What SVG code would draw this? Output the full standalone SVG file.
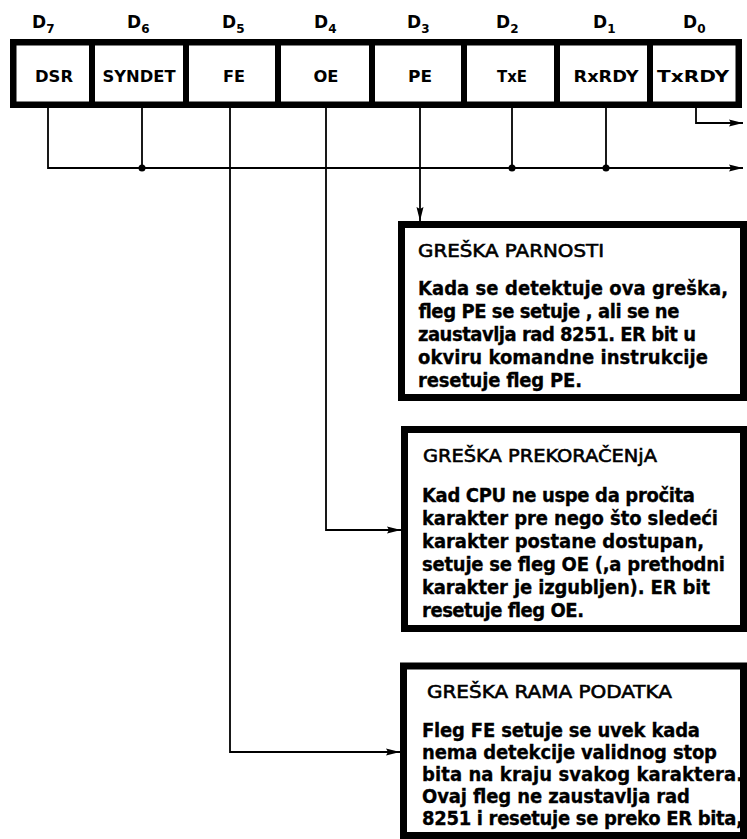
<svg xmlns="http://www.w3.org/2000/svg" width="747" height="839" viewBox="0 0 747 839">
  <style>
    .bg { fill: #ffffff; }
    .frame { fill: #ffffff; stroke: #000; stroke-width: 6.5; }
    .box { fill: #ffffff; stroke: #000; stroke-width: 7; }
    .div { stroke: #000; stroke-width: 6; }
    .wire { fill: none; stroke: #000; stroke-width: 1.8; }
    .dot { fill: #000; }
    .bit { font-family: "DejaVu Sans", "Liberation Sans", sans-serif; font-weight: bold; font-size: 17px; fill: #000; }
    .sub { font-size: 12px; }
    .cell { font-family: "DejaVu Sans", "Liberation Sans", sans-serif; font-weight: bold; font-size: 16px; fill: #000; text-anchor: middle; }
    .head { font-family: "DejaVu Sans", "Liberation Sans", sans-serif; font-size: 18px; fill: #000; stroke: #000; stroke-width: 0.6; }
    .body { font-family: "DejaVu Sans Condensed", "DejaVu Sans", sans-serif; font-stretch: condensed; font-weight: bold; font-size: 20px; fill: #000; stroke: #000; stroke-width: 0.3; }
  </style>
  <defs>
    <marker id="arrow" viewBox="0 0 14 8" refX="14" refY="4" markerWidth="14" markerHeight="8" markerUnits="userSpaceOnUse" orient="auto">
      <path d="M0,0.5 L14,4 L0,7.5 L2,4 Z" fill="#000"/>
    </marker>
  </defs>

  <rect class="bg" x="0" y="0" width="747" height="839"/>

  <!-- bit numbers above the status register -->
  <g id="bit-labels">
    <text class="bit" x="32" y="28">D<tspan class="sub" dy="5">7</tspan></text>
    <text class="bit" x="127" y="28">D<tspan class="sub" dy="5">6</tspan></text>
    <text class="bit" x="222" y="28">D<tspan class="sub" dy="5">5</tspan></text>
    <text class="bit" x="314" y="28">D<tspan class="sub" dy="5">4</tspan></text>
    <text class="bit" x="407" y="28">D<tspan class="sub" dy="5">3</tspan></text>
    <text class="bit" x="496" y="28">D<tspan class="sub" dy="5">2</tspan></text>
    <text class="bit" x="593" y="28">D<tspan class="sub" dy="5">1</tspan></text>
    <text class="bit" x="683" y="28">D<tspan class="sub" dy="5">0</tspan></text>
  </g>

  <!-- 8251 status register -->
  <g id="register">
    <rect class="frame" x="13.25" y="42.25" width="725.5" height="62.5"/>
    <line class="div" x1="92" y1="42" x2="92" y2="105"/>
    <line class="div" x1="186" y1="42" x2="186" y2="105"/>
    <line class="div" x1="278" y1="42" x2="278" y2="105"/>
    <line class="div" x1="372" y1="42" x2="372" y2="105"/>
    <line class="div" x1="464" y1="42" x2="464" y2="105"/>
    <line class="div" x1="557" y1="42" x2="557" y2="105"/>
    <line class="div" x1="650" y1="42" x2="650" y2="105"/>
    <text class="cell" x="54" y="82" textLength="38" lengthAdjust="spacingAndGlyphs">DSR</text>
    <text class="cell" x="139" y="82" textLength="73" lengthAdjust="spacingAndGlyphs">SYNDET</text>
    <text class="cell" x="234" y="82" textLength="22" lengthAdjust="spacingAndGlyphs">FE</text>
    <text class="cell" x="326" y="82" textLength="25" lengthAdjust="spacingAndGlyphs">OE</text>
    <text class="cell" x="420" y="82" textLength="24" lengthAdjust="spacingAndGlyphs">PE</text>
    <text class="cell" x="512" y="82" textLength="30" lengthAdjust="spacingAndGlyphs">TxE</text>
    <text class="cell" x="606" y="82" textLength="65" lengthAdjust="spacingAndGlyphs">RxRDY</text>
    <text class="cell" x="693" y="82" textLength="72" lengthAdjust="spacingAndGlyphs">TxRDY</text>
  </g>

  <!-- signal lines -->
  <g id="connectors">
    <path class="wire" d="M48,108 V168 H743" marker-end="url(#arrow)"/>
    <path class="wire" d="M142,108 V168"/>
    <path class="wire" d="M512,108 V168"/>
    <path class="wire" d="M606,108 V168"/>
    <path class="wire" d="M696,108 V123 H743" marker-end="url(#arrow)"/>
    <path class="wire" d="M420,108 V221" marker-end="url(#arrow)"/>
    <path class="wire" d="M326,108 V530 H401" marker-end="url(#arrow)"/>
    <path class="wire" d="M230,108 V752 H400" marker-end="url(#arrow)"/>
    <circle class="dot" cx="142" cy="168" r="3.5"/>
    <circle class="dot" cx="512" cy="168" r="3.5"/>
    <circle class="dot" cx="606" cy="168" r="3.5"/>
  </g>

  <!-- parity error -->
  <g id="parity-error">
    <rect class="box" x="401.5" y="224.5" width="342" height="173"/>
    <text class="head" x="418" y="257" textLength="186" lengthAdjust="spacingAndGlyphs">GREŠKA PARNOSTI</text>
    <text class="body" x="418" y="295" textLength="310" lengthAdjust="spacing">Kada se detektuje ova greška,</text>
    <text class="body" x="418" y="318" textLength="261" lengthAdjust="spacing">fleg PE se setuje , ali se ne</text>
    <text class="body" x="418" y="341" textLength="278" lengthAdjust="spacing">zaustavlja rad 8251. ER bit u</text>
    <text class="body" x="418" y="364" textLength="290" lengthAdjust="spacing">okviru komandne instrukcije</text>
    <text class="body" x="418" y="387" textLength="164" lengthAdjust="spacing">resetuje fleg PE.</text>
  </g>

  <!-- overrun error -->
  <g id="overrun-error">
    <rect class="box" x="404.5" y="429.5" width="339" height="199"/>
    <text class="head" x="423" y="462" textLength="234" lengthAdjust="spacingAndGlyphs">GREŠKA PREKORAČENjA</text>
    <text class="body" x="422" y="502" textLength="273" lengthAdjust="spacing">Kad CPU ne uspe da pročita</text>
    <text class="body" x="422" y="525" textLength="296" lengthAdjust="spacing">karakter pre nego što sledeći</text>
    <text class="body" x="422" y="548" textLength="282" lengthAdjust="spacing">karakter postane dostupan,</text>
    <text class="body" x="422" y="571" textLength="303" lengthAdjust="spacing">setuje se fleg OE (,a prethodni</text>
    <text class="body" x="422" y="594" textLength="288" lengthAdjust="spacing">karakter je izgubljen). ER bit</text>
    <text class="body" x="422" y="617" textLength="162" lengthAdjust="spacing">resetuje fleg OE.</text>
  </g>

  <!-- framing error -->
  <g id="framing-error">
    <rect class="box" x="403.5" y="666" width="340" height="169.5"/>
    <text class="head" x="427" y="698" textLength="245" lengthAdjust="spacingAndGlyphs">GREŠKA RAMA PODATKA</text>
    <text class="body" x="422" y="737" textLength="278" lengthAdjust="spacing">Fleg FE setuje se uvek kada</text>
    <text class="body" x="422" y="759" textLength="295" lengthAdjust="spacing">nema detekcije validnog stop</text>
    <text class="body" x="422" y="781" textLength="321" lengthAdjust="spacing">bita na kraju svakog karaktera.</text>
    <text class="body" x="422" y="803" textLength="268" lengthAdjust="spacing">Ovaj fleg ne zaustavlja rad</text>
    <text class="body" x="422" y="825" textLength="321" lengthAdjust="spacing">8251 i resetuje se preko ER bita,</text>
  </g>
</svg>
